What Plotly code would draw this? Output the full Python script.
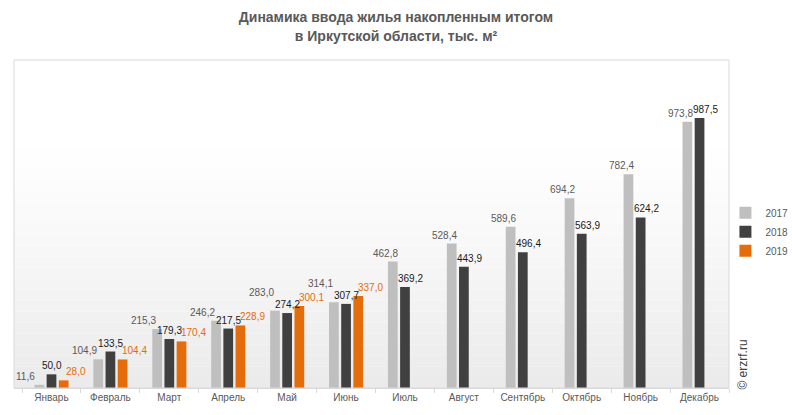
import plotly.graph_objects as go

months = ["Январь", "Февраль", "Март", "Апрель", "Май", "Июнь",
          "Июль", "Август", "Сентябрь", "Октябрь", "Ноябрь", "Декабрь"]
y2017 = [11.6, 104.9, 215.3, 246.2, 283.0, 314.1, 462.8, 528.4, 589.6, 694.2, 782.4, 973.8]
y2018 = [50.0, 133.5, 179.3, 217.5, 274.2, 307.7, 369.2, 443.9, 496.4, 563.9, 624.2, 987.5]
y2019 = [28.0, 104.4, 170.4, 228.9, 300.1, 337.0, None, None, None, None, None, None]

series = [("2017", y2017, "#bfbfbf", "#595959"),
          ("2018", y2018, "#404040", "#1a1a1a"),
          ("2019", y2019, "#e46c0a", "#e46c0a")]

FONT = "Liberation Sans, Arial, sans-serif"

fig = go.Figure()
for name, vals, col, tcol in series:
    fig.add_trace(go.Bar(
        x=months, y=vals, name=name,
        marker=dict(color=col, line=dict(width=0)),
    ))

# value labels, spread sideways so neighbours don't collide
for k, (name, vals, col, tcol) in enumerate(series):
    for i, (m, v) in enumerate(zip(months, vals)):
        if v is None:
            continue
        full = y2019[i] is not None
        shift = [-26, 0, 24][k] if full else [-19, 6, 0][k]
        lift = 1
        if k == 0 and full and abs(v - y2018[i]) < 25:
            lift = 11
        fig.add_annotation(
            x=m, y=v, xref="x", yref="y", showarrow=False,
            text=f"{v:.1f}".replace(".", ","),
            xshift=shift, yshift=lift, yanchor="bottom",
            font=dict(size=10, color=tcol, family=FONT),
        )

# soft vertical gradient in the plot area
n = 30
for i in range(n):
    t = i / (n - 1)
    g = int(255 - 20 * ((0.75 - t) / 0.75) ** 1.2) if t < 0.75 else 255
    fig.add_shape(type="rect", xref="x domain", yref="y domain",
                  x0=0, x1=1, y0=i / n, y1=(i + 1) / n,
                  fillcolor=f"rgb({g},{g},{g})", line=dict(width=0), layer="below")
fig.add_shape(type="rect", xref="x domain", yref="y domain", x0=0, x1=1, y0=0, y1=1,
              line=dict(color="#d9d9d9", width=1), layer="above")

fig.add_annotation(text="© erzrf.ru", textangle=-90, showarrow=False,
                   xref="paper", yref="paper", x=1.02, y=-0.01,
                   xanchor="center", yanchor="bottom",
                   font=dict(size=12, color="#404040", family=FONT))

fig.update_layout(
    width=792, height=415,
    margin=dict(l=14, r=63, t=60, b=27, autoexpand=False),
    paper_bgcolor="white", plot_bgcolor="white",
    barmode="group", bargap=0.38, bargroupgap=0.2,
    title=dict(text="Динамика ввода жилья накопленным итогом<br>в Иркутской области, тыс. м²",
               x=0.5, xanchor="center", y=0.946, yanchor="top",
               font=dict(size=14, color="#595959",
                         family="Liberation Sans Narrow, Arial Narrow, Liberation Sans, sans-serif",
                         weight="bold")),
    legend=dict(x=0.995, y=0.476, xanchor="left", yanchor="middle",
                font=dict(size=10, color="#595959", family=FONT),
                itemwidth=30, tracegroupgap=2, bgcolor="rgba(0,0,0,0)"),
    xaxis=dict(showgrid=False, showline=True, linecolor="#d9d9d9", ticks="outside",
               tickson="boundaries", ticklen=4, tickcolor="#d9d9d9",
               tickfont=dict(size=10, color="#595959", family=FONT)),
    yaxis=dict(range=[0, 1200], showgrid=False, showticklabels=False, zeroline=False),
    font=dict(family=FONT),
)

fig.write_html("out.html", config={"displayModeBar": False},
               post_script="document.body.style.margin='0';")
